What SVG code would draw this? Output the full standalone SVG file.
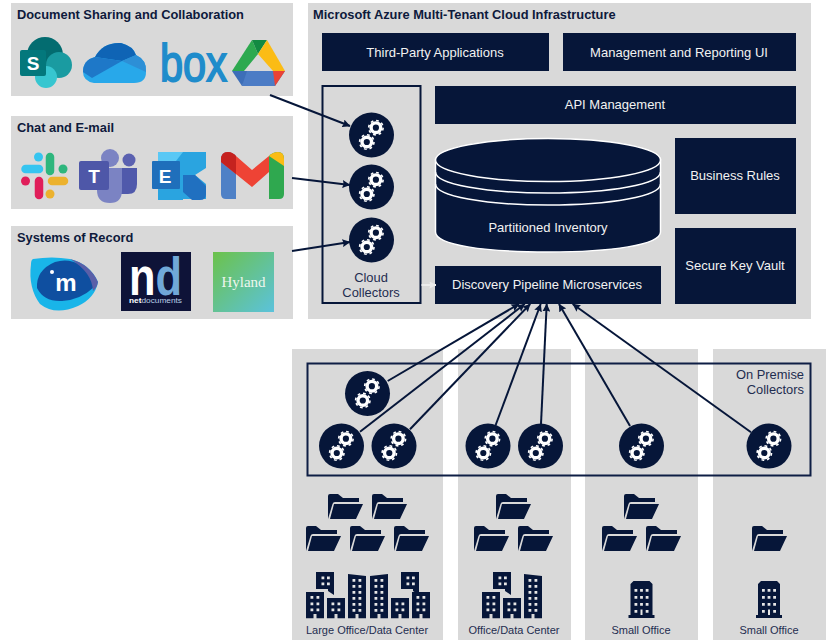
<svg xmlns="http://www.w3.org/2000/svg" xmlns:xlink="http://www.w3.org/1999/xlink" width="830" height="640" viewBox="0 0 830 640">
<style>
text{font-family:"Liberation Sans",Arial,sans-serif;}
.p{fill:#d9d9d9}
.n{fill:#061639}
.h{font-size:12.85px;font-weight:bold;fill:#0e1a3c}
.w{font-size:13px;fill:#f2f2f2;text-anchor:middle}
.d{font-size:12.9px;fill:#1f2d50;text-anchor:middle}
.s{font-size:11px;fill:#1f2d50;text-anchor:middle}
.c{stroke:#061639;stroke-width:2;fill:none;marker-end:url(#a)}
.win{fill:#e6e6e6}
</style>
<defs>
<marker id="a" viewBox="0 0 10 10" refX="9.500" refY="5" markerWidth="4" markerHeight="4" orient="auto"><path d="M0 0L10 5L0 10L1.500 5Z" fill="#061639"/></marker>
<marker id="b" viewBox="0 0 10 10" refX="9.500" refY="5" markerWidth="3.500" markerHeight="3.500" orient="auto"><path d="M0 0L10 5L0 10L1.500 5Z" fill="#ececec"/></marker>
<g id="gear"><circle r="4.800" fill="none" stroke="#fff" stroke-width="3.400"/><circle r="7.200" fill="none" stroke="#fff" stroke-width="1.600" stroke-dasharray="2.800 2.855"/></g>
<g id="col"><circle r="22.500" class="n"/><use xlink:href="#gear" x="4.400" y="-7.300"/><use xlink:href="#gear" x="-4.700" y="7"/></g>
<g id="fol"><path d="M0 25V2Q0 0 2 0H10L15 4H31V8H7Q5 8 4.500 10L0 25Z" class="n"/><path d="M6 10H35L28 25H2Z" class="n"/></g>
<g id="tw1"><path d="M0 0L18 2V44.300H10.500V40H7.500V44.300H0Z" class="n"/><path class="win" d="M4.500 5h2.800v2.800h-2.800zM10.500 5h2.800v2.800h-2.800zM4.500 11h2.800v2.800h-2.800zM10.500 11h2.800v2.800h-2.800zM4.500 17h2.800v2.800h-2.800zM10.500 17h2.800v2.800h-2.800zM4.500 23h2.800v2.800h-2.800zM10.500 23h2.800v2.800h-2.800zM4.500 29h2.800v2.800h-2.800zM10.500 29h2.800v2.800h-2.800zM4.500 35h2.800v2.800h-2.800zM10.500 35h2.800v2.800h-2.800z"/></g>
<g id="tw2"><path d="M0 2L18 0V44.300H10.500V40H7.500V44.300H0Z" class="n"/><path class="win" d="M4.500 5h2.800v2.800h-2.800zM10.500 5h2.800v2.800h-2.800zM4.500 11h2.800v2.800h-2.800zM10.500 11h2.800v2.800h-2.800zM4.500 17h2.800v2.800h-2.800zM10.500 17h2.800v2.800h-2.800zM4.500 23h2.800v2.800h-2.800zM10.500 23h2.800v2.800h-2.800zM4.500 29h2.800v2.800h-2.800zM10.500 29h2.800v2.800h-2.800zM4.500 35h2.800v2.800h-2.800zM10.500 35h2.800v2.800h-2.800z"/></g>
<g id="bl"><path d="M0 26.300V0H18V26.300H10.500V22H7.500V26.300Z" class="n"/><path class="win" d="M4.500 4h2.800v2.800h-2.800zM10.500 4h2.800v2.800h-2.800zM4.500 10.500h2.800v2.800h-2.800zM10.500 10.500h2.800v2.800h-2.800zM4.500 16.500h2.800v2.800h-2.800zM10.500 16.500h2.800v2.800h-2.800z"/></g>
<g id="bs"><path d="M0 20.300V0H18V20.300H10.500V16H7.500V20.300Z" class="n"/><path class="win" d="M4.500 4.500h2.800v2.800h-2.800zM10.500 4.500h2.800v2.800h-2.800zM4.500 10.500h2.800v2.800h-2.800zM10.500 10.500h2.800v2.800h-2.800z"/></g>
<g id="tiny"><path d="M0 17V0H18V23L12 19V17Z" class="n"/><path class="win" d="M5.500 4.500h2.800v2.800h-2.800zM11 4.500h2.800v2.800h-2.800zM5.500 10.500h2.800v2.800h-2.800zM11 10.500h2.800v2.800h-2.800z"/></g>
<g id="so"><path d="M-13 37V34H-11V3L-8 0H8L11 3V34H13V37Z" class="n"/><path class="win" d="M-7 8h2.800v2.800h-2.800zM-1.400 8h2.800v2.800h-2.800zM4.200 8h2.800v2.800h-2.800zM-7 15h2.800v2.800h-2.800zM-1.400 15h2.800v2.800h-2.800zM4.200 15h2.800v2.800h-2.800zM-7 22h2.800v2.800h-2.800zM-1.400 22h2.800v2.800h-2.800zM4.200 22h2.800v2.800h-2.800zM-7 29h2.800v2.800h-2.800zM-1 28.500h2v5.500h-2zM4.200 29h2.800v2.800h-2.800z"/></g>
</defs>
<rect width="830" height="640" fill="#fff"/>

<g id="doc-sharing">
<rect class="p" x="11" y="3" width="282" height="93"/>
<text class="h" x="17" y="19">Document Sharing and Collaboration</text>
<g id="sharepoint"><circle cx="45" cy="55" r="18" fill="#036c70"/><circle cx="59" cy="65" r="13" fill="#1a9ba1"/><circle cx="46" cy="77" r="11" fill="#37c6d0"/><rect x="20" y="50" width="26" height="26" rx="2" fill="#03787c"/><text x="33" y="70" font-size="19" font-weight="bold" fill="#fff" text-anchor="middle">S</text></g>
<g id="onedrive"><path d="M83 72Q83 60 95 57Q103 42 121 43Q133 46 136 55Q147 60 146 72Q146 83 134 83H94Q83 81 83 72Z" fill="#28a8ea"/><path d="M95 57Q103 42 121 43Q133 46 136 55L122 61Z" fill="#0f64b5"/><path d="M83 72Q83 60 95 57L122 61L92 78Z" fill="#1e78c8"/><path d="M122 61L136 55Q147 60 146 72Z" fill="#2d8fd6"/></g>
<g id="box"><text x="160" y="80.500" font-size="52" fill="#1f8ccb" stroke="#1f8ccb" stroke-width="1.800" textLength="67" lengthAdjust="spacingAndGlyphs">box</text></g>
<g id="gdrive"><path d="M232 71L252 40L258 54L244 71Z" fill="#2da94f"/><path d="M252 40H267L258 54Z" fill="#128a42"/><path d="M267 40L285 71H273L258 54Z" fill="#fbbc15"/><path d="M244 71H285L275 86H242Z" fill="#4c7cc5"/><path d="M273 71H285L275 86Z" fill="#ea4335"/><path d="M232 71H247L242 86Z" fill="#3d6eb8"/></g>
</g>
<g id="chat">
<rect class="p" x="11" y="116" width="282" height="93"/>
<text class="h" x="17" y="132">Chat and E-mail</text>
<g id="slack"><g stroke-linecap="round" stroke-width="8.500" fill="none"><path d="M25.500 169H39" stroke="#36c5f0"/><path d="M50 157V171" stroke="#2eb67d"/><path d="M52 181H64" stroke="#ecb22e"/><path d="M39 181V195" stroke="#e01e5a"/></g><circle cx="38.500" cy="157" r="4.500" fill="#36c5f0"/><circle cx="63" cy="169" r="4.500" fill="#2eb67d"/><circle cx="50" cy="194" r="4.500" fill="#ecb22e"/><circle cx="25.500" cy="181" r="4.500" fill="#e01e5a"/></g>
<g id="teams"><circle cx="110" cy="158" r="9" fill="#7b83c3"/><circle cx="129" cy="160" r="6.500" fill="#5b61b0"/><path d="M121 168H137V184Q137 194 128 194H120Z" fill="#5059ab"/><path d="M97 168H122V190Q122 203 110 203Q97 203 97 190Z" fill="#7b83c3"/><rect x="79" y="161" width="30" height="29" rx="2" fill="#4e57a8"/><text x="94" y="183" font-size="19" font-weight="bold" fill="#fff" text-anchor="middle">T</text></g>
<g id="exchange"><path d="M158 152H206V168L195 175L206 184V199H183V200H158Z" fill="#2aa4e0"/><path d="M158 152H183L176 161H158Z" fill="#5ac8f5"/><path d="M183 175H195L206 186V194Q206 200 200 200H192L183 192Z" fill="#2070c0"/><rect x="152" y="161" width="28" height="28" rx="1" fill="#1f6fbb"/><text x="165" y="183" font-size="19" font-weight="bold" fill="#fff" text-anchor="middle">E</text></g>
<g id="gmail"><path d="M221 159Q221 152 228 152Q232 152 236 156L236 199H226Q221 199 221 194Z" fill="#4f81c6"/><path d="M269 156Q273 152 278 152Q284 152 284 159V194Q284 199 279 199H269Z" fill="#2fa84f"/><path d="M269 156L284 166V159Q284 152 278 152Q273 152 269 156Z" fill="#fbbc15"/><path d="M221 160Q221 152 228 152Q232 152 236 156L252 170L269 156V172L252 187L221 162Z" fill="#ee4335"/><path d="M221 160Q221 152 228 152Q232 152 236 156V174L221 162Z" fill="#c5221f"/></g>
</g>
<g id="systems">
<rect class="p" x="11" y="226" width="282" height="93"/>
<text class="h" x="17" y="242">Systems of Record</text>
<g id="imanage"><path d="M33 259Q52 256 70 259Q90 264 98 282Q95 298 78 306Q55 316 40 304Q28 288 31 264Q31 260 33 259Z" fill="#19b5e9"/><path d="M37 288Q36 270 55 262Q78 255 95 280Q97 284 93 288Q80 300 62 301Q44 302 37 288Z" fill="#0f4fa0"/><path d="M70 259Q90 264 98 282Q97 288 93 291Q92 272 70 259Z" fill="#5a5fa8"/><circle cx="52" cy="272" r="2" fill="#fff"/><text x="66" y="291" font-size="24" font-weight="bold" fill="#fff" text-anchor="middle">m</text></g>
<g id="netdocuments"><rect x="121" y="252" width="70" height="59" fill="#0e1338"/><text x="129" y="295" font-size="53" font-weight="bold" fill="#fff" textLength="53" lengthAdjust="spacingAndGlyphs">n<tspan fill="#70a8d8">d</tspan></text><text x="129" y="303" font-size="7" fill="#fff" font-weight="bold" textLength="53" lengthAdjust="spacingAndGlyphs">net<tspan fill="#b8cce4" font-weight="normal">documents</tspan></text></g>
<defs><linearGradient id="hy" x1="0" y1="0" x2="1" y2="1"><stop offset="0" stop-color="#6cc24a"/><stop offset="1" stop-color="#5bc2dc"/></linearGradient></defs>
<g id="hyland"><rect x="213" y="252" width="61" height="60" fill="url(#hy)"/><text x="243.500" y="287" font-size="15" fill="#eef6ee" text-anchor="middle" style="font-family:'Liberation Serif',serif">Hyland</text></g>
</g>

<g id="azure">
<rect class="p" x="308" y="3" width="503" height="316"/>
<text class="h" x="313" y="19">Microsoft Azure Multi-Tenant Cloud Infrastructure</text>
</g>
<g id="third-party"><rect class="n" x="322" y="33" width="227" height="38"/><text class="w" x="435" y="57">Third-Party Applications</text></g>
<g id="mgmt"><rect class="n" x="563" y="33" width="233" height="38"/><text class="w" x="679" y="57">Management and Reporting UI</text></g>
<g id="api"><rect class="n" x="435" y="86" width="361" height="38"/><text class="w" x="615" y="109">API Management</text></g>
<g id="inventory">
<path d="M435.500 160V232C435.500 245 485 252 548 252C611 252 660.500 245 660.500 232V160Z" class="n" stroke="#fff" stroke-width="1.500"/>
<ellipse cx="548" cy="160" rx="112.500" ry="21.500" class="n" stroke="#fff" stroke-width="1.500"/>
<path d="M435.500 172C435.500 184 485 193 548 193C611 193 660.500 184 660.500 172M435.500 184C435.500 196 485 205 548 205C611 205 660.500 196 660.500 184" fill="none" stroke="#fff" stroke-width="1.500"/>
<text class="w" x="548" y="232">Partitioned Inventory</text>
</g>
<g id="rules"><rect class="n" x="675" y="138" width="121" height="76"/><text class="w" x="735" y="180">Business Rules</text></g>
<g id="vault"><rect class="n" x="675" y="228" width="121" height="76"/><text class="w" x="735" y="270">Secure Key Vault</text></g>
<g id="pipeline"><rect class="n" x="435" y="266" width="226" height="38"/><text class="w" x="547" y="289">Discovery Pipeline Microservices</text></g>
<g id="cloud-collectors">
<rect x="322.500" y="86" width="98" height="217" fill="none" stroke="#061639" stroke-width="2"/>
<text class="d" x="371" y="282">Cloud</text><text class="d" x="371" y="297">Collectors</text>
<use xlink:href="#col" x="371.500" y="135"/><use xlink:href="#col" x="371.500" y="187"/><use xlink:href="#col" x="371.500" y="240"/>
</g>

<g id="site-large"><rect class="p" x="292" y="349" width="151" height="291"/><text class="s" x="367" y="634">Large Office/Data Center</text>
<use xlink:href="#fol" x="328" y="494"/><use xlink:href="#fol" x="372" y="494"/><use xlink:href="#fol" x="306" y="526"/><use xlink:href="#fol" x="350" y="526"/><use xlink:href="#fol" x="394" y="526"/>
<use xlink:href="#tw1" x="348" y="574"/><use xlink:href="#tw2" x="370" y="574"/><use xlink:href="#tiny" x="316" y="572"/><use xlink:href="#bl" x="306" y="592"/><use xlink:href="#bs" x="327" y="598"/><use xlink:href="#tiny" x="401" y="572"/><use xlink:href="#bs" x="391" y="598"/><use xlink:href="#bl" x="412" y="592"/>
</g>
<g id="site-office"><rect class="p" x="458" y="349" width="113" height="291"/><text class="s" x="514" y="634">Office/Data Center</text>
<use xlink:href="#fol" x="496" y="494"/><use xlink:href="#fol" x="474" y="526"/><use xlink:href="#fol" x="518" y="526"/>
<use xlink:href="#tiny" x="493" y="572"/><use xlink:href="#bl" x="482" y="592"/><use xlink:href="#bs" x="503" y="598"/><use xlink:href="#tw1" x="524" y="574"/>
</g>
<g id="site-small-1"><rect class="p" x="585" y="349" width="113" height="291"/><text class="s" x="641" y="634">Small Office</text>
<use xlink:href="#fol" x="624" y="494"/><use xlink:href="#fol" x="602" y="526"/><use xlink:href="#fol" x="646" y="526"/><use xlink:href="#so" x="641.500" y="581"/>
</g>
<g id="site-small-2"><rect class="p" x="713" y="349" width="113" height="291"/><text class="s" x="769" y="634">Small Office</text>
<use xlink:href="#fol" x="752" y="526"/><use xlink:href="#so" x="769" y="581"/>
</g>
<g id="on-premise">
<rect x="307.500" y="363.500" width="503" height="112" fill="none" stroke="#0e1e45" stroke-width="2"/>
<text class="d" x="804" y="379" style="text-anchor:end">On Premise</text><text class="d" x="804" y="394" style="text-anchor:end">Collectors</text>
<use xlink:href="#col" x="367.500" y="393.500"/><use xlink:href="#col" x="341.500" y="446"/><use xlink:href="#col" x="394" y="446"/><use xlink:href="#col" x="488" y="446"/><use xlink:href="#col" x="540.500" y="446"/><use xlink:href="#col" x="641.500" y="446"/><use xlink:href="#col" x="769" y="446"/>
</g>

<g id="connectors">
<path d="M421.500 285H436" stroke="#ececec" stroke-width="2" fill="none" marker-end="url(#b)"/>
<path class="c" d="M270 95L350 126"/>
<path class="c" d="M292 178L350 185"/>
<path class="c" d="M292 251L350 242"/>
<path class="c" d="M387.700 381L519 304"/>
<path class="c" d="M360 431.700L524.700 304"/>
<path class="c" d="M410 429.300L530.200 304"/>
<path class="c" d="M495.700 425L540.700 304"/>
<path class="c" d="M541 424L546.700 304"/>
<path class="c" d="M630 426L559 304"/>
<path class="c" d="M751 432.300L572.700 304"/>
</g>
</svg>
